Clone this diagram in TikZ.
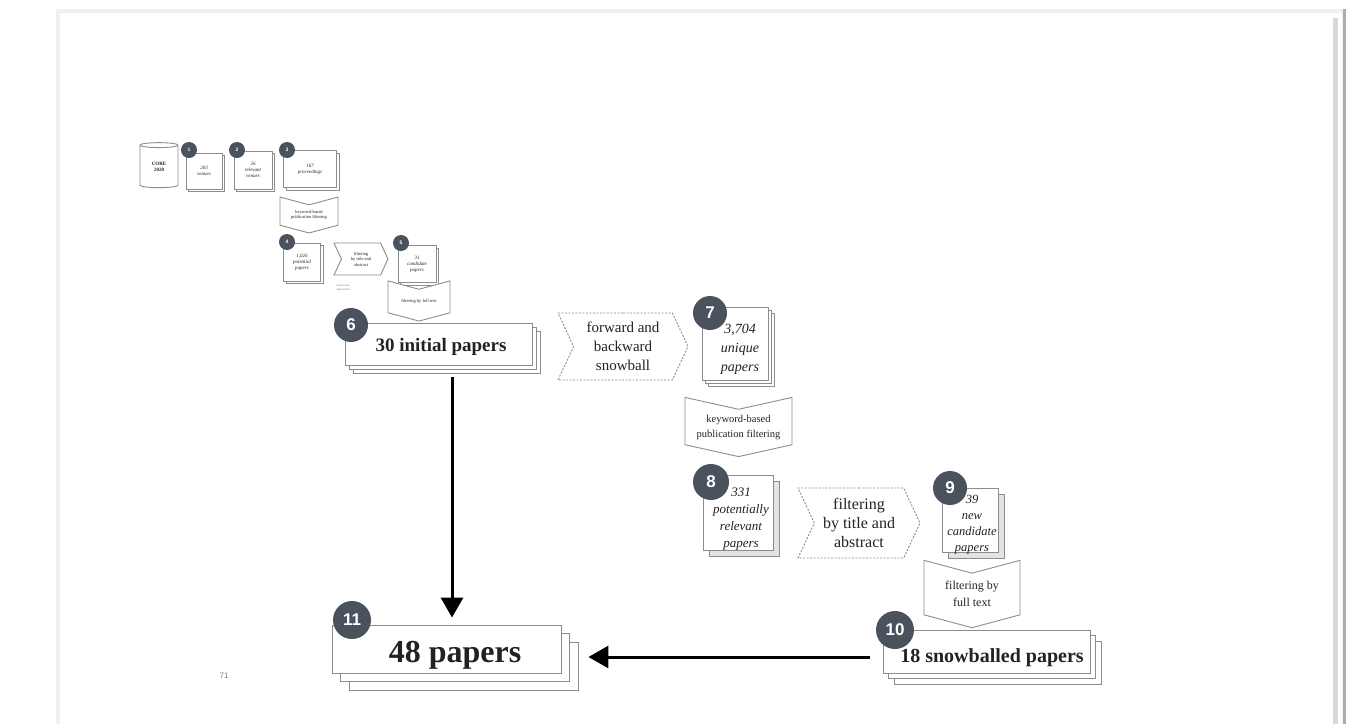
\documentclass[tikz,border=0pt]{standalone}
\usepackage{fontspec}
\setmainfont{Liberation Serif}
\newfontfamily\badgefont{Liberation Sans}
\usetikzlibrary{shapes.geometric,shapes.symbols,shadows,arrows.meta,calc}
\definecolor{badgec}{HTML}{4A525D}
\definecolor{boxgray}{HTML}{8C8C8C}
\definecolor{textc}{HTML}{222222}
\newcommand\fsz[2]{\fontsize{#1}{#2}\selectfont}
\begin{document}
\begin{tikzpicture}[x=1pt,y=-1pt,
  badge/.style={circle,fill=badgec,text=white,inner sep=0pt},
  paper/.style={draw=boxgray,fill=white,line width=0.9pt,inner sep=1pt,align=center,text=textc},
  txt/.style={align=center,text=textc,inner sep=0pt},
  sstack/.style={copy shadow={shadow xshift=#1,shadow yshift=-#1,draw=boxgray,fill=white,opacity=1,line width=0.9pt}},
  dstack/.style 2 args={copy shadow={shadow xshift=#1,shadow yshift=-#1,draw=boxgray,fill=white,opacity=1,line width=0.9pt},
                        copy shadow={shadow xshift=#2,shadow yshift=-#2,draw=boxgray,fill=white,opacity=1,line width=0.9pt}},
  cube/.style={copy shadow={shadow xshift=#1,shadow yshift=-#1,draw=boxgray,fill=gray!22,opacity=1,line width=0.9pt}},
  chevR/.style={signal,signal to=east,signal from=west,draw=boxgray,fill=white,line width=0.9pt,align=center,inner sep=0pt,text=textc},
  chevD/.style={signal,signal to=south,signal from=north,draw=boxgray,fill=white,line width=0.9pt,align=center,inner sep=0pt,text=textc},
  dotted border/.style={dash pattern=on 2pt off 1.5pt},
  bigarrow/.style={line width=3pt,-{Triangle[length=20pt,width=22pt]}}
]
\useasboundingbox (0,0) rectangle (1347,724);
% slide frame
\fill[gray!12] (56,9) rectangle (1346,724);
\fill[white] (60,13) rectangle (1342,724);
\fill[gray!30] (1333,18) rectangle (1338,724);
\fill[gray!65] (1343,9) rectangle (1345.5,724);

% ---- small part
\node[paper,shape=cylinder,shape border rotate=90,aspect=0.3,minimum width=38pt,minimum height=45pt,font=\fsz{5}{6}\bfseries] (core) at (159,167) {CORE\\2020};

\node[paper,sstack=2.5pt,minimum width=36pt,minimum height=36pt,font=\fsz{5}{6}\itshape] (p1) at (204,171) {203\\venues};
\node[badge,minimum size=16pt,font=\badgefont\bfseries\fsz{5}{6}] (n1) at (189,150) {1};

\node[paper,sstack=2.5pt,minimum width=38pt,minimum height=38pt,font=\fsz{5}{6}\itshape] (p2) at (253,170) {26\\relevant\\venues};
\node[badge,minimum size=16pt,font=\badgefont\bfseries\fsz{5}{6}] (n2) at (237,150) {2};

\node[paper,sstack=2.5pt,minimum width=53pt,minimum height=37pt,font=\fsz{5}{6}\itshape] (p3) at (310,169) {167\\proceedings};
\node[badge,minimum size=16pt,font=\badgefont\bfseries\fsz{5}{6}] (n3) at (287,150) {3};

\node[chevD,signal pointer angle=150,minimum width=58pt,minimum height=30pt,font=\fsz{4.5}{5.5}] (k1) at (309,215) {keyword-based\\publication filtering};

\node[paper,sstack=2.5pt,minimum width=37pt,minimum height=38pt,font=\fsz{5}{6}\itshape] (p4) at (302,262) {1,026\\potential\\papers};
\node[badge,minimum size=16pt,font=\badgefont\bfseries\fsz{5}{6}] (n4) at (287,242) {4};

\node[chevR,signal pointer angle=130,minimum width=54pt,minimum height=32pt,font=\fsz{4.5}{5.5}] (t1) at (361,259) {filtering\\by title and\\abstract};
\node[align=center,text=gray,font=\fsz{3.2}{4}] (note) at (343,288) {inter-rater\\agreement};

\node[paper,sstack=2.5pt,minimum width=38pt,minimum height=37pt,font=\fsz{5}{6}\itshape] (p5) at (417,264) {31\\candidate\\papers};
\node[badge,minimum size=16pt,font=\badgefont\bfseries\fsz{5}{6}] (n5) at (401,243) {5};

\node[chevD,signal pointer angle=150,minimum width=62pt,minimum height=33pt,font=\fsz{4.5}{5.5}] (f1) at (419,301) {filtering by full text};

% ---- 6
\node[paper,dstack={8pt}{4pt},minimum width=187pt,minimum height=42pt] (p6) at (438.5,344) {};
\node[txt,font=\fsz{19}{22}\bfseries] (p6t) at (441,347) {30 initial papers};
\node[badge,minimum size=34pt,font=\badgefont\bfseries\fsz{17}{19}] (n6) at (351,325) {6};

\node[chevR,dotted border,signal pointer angle=130,minimum width=130pt,minimum height=67pt,font=\fsz{15}{19}] (snow) at (623,346.5) {forward and\\backward\\snowball};

% ---- 7
\node[paper,dstack={6pt}{3pt},minimum width=66pt,minimum height=73pt] (p7) at (735,343.5) {};
\node[txt,font=\fsz{14}{19}\itshape] (p7t) at (740,349) {3,704\\unique\\papers};
\node[badge,minimum size=34pt,font=\badgefont\bfseries\fsz{17}{19}] (n7) at (710,313) {7};

\node[chevD,signal pointer angle=155,minimum width=107pt,minimum height=54pt,font=\fsz{10.5}{15}] (k2) at (738.5,427) {keyword-based\\publication filtering};

% ---- 8
\node[paper,cube=6pt,minimum width=70pt,minimum height=75pt] (p8) at (738,512.5) {};
\node[txt,font=\fsz{13}{17}\itshape] (p8t) at (741,519) {331\\potentially\\relevant\\papers};
\node[badge,minimum size=36pt,font=\badgefont\bfseries\fsz{17}{19}] (n8) at (711,482) {8};

\node[chevR,dotted border,signal pointer angle=130,minimum width=122pt,minimum height=70pt,font=\fsz{16}{19}] (t2) at (859,523) {filtering\\by title and\\abstract};

% ---- 9
\node[paper,cube=6pt,minimum width=56pt,minimum height=64pt] (p9) at (970,520) {};
\node[txt,font=\fsz{12.5}{16}\itshape] (p9t) at (972,525) {39\\new\\candidate\\papers};
\node[badge,minimum size=34pt,font=\badgefont\bfseries\fsz{17}{19}] (n9) at (950,488) {9};

\node[chevD,signal pointer angle=150,minimum width=96pt,minimum height=56pt,font=\fsz{12}{17}] (f2) at (972,594) {filtering by\\full text};

% ---- 10
\node[paper,dstack={11pt}{5.5pt},minimum width=207pt,minimum height=43pt] (p10) at (986.5,651.5) {};
\node[txt,font=\fsz{20}{23}\bfseries] (p10t) at (992,658) {18 snowballed papers};
\node[badge,minimum size=38pt,font=\badgefont\bfseries\fsz{17}{19}] (n10) at (895,630) {10};

% ---- 11
\node[paper,dstack={17pt}{8.5pt},minimum width=229pt,minimum height=48pt] (p11) at (446.5,649) {};
\node[txt,font=\fsz{32}{36}\bfseries] (p11t) at (455,655) {48 papers};
\node[badge,minimum size=38pt,font=\badgefont\bfseries\fsz{17}{19}] (n11) at (352,620) {11};

% ---- connectors
\draw[bigarrow] ([xshift=13.5pt,yshift=-12pt]p6.south) -- ([xshift=13.5pt,yshift=7pt]p6.south |- p11.north);
\draw[bigarrow] ($(p10.west)+(-13,5.5)$) -- ($(p11.east |- p10.west)+(27,5.5)$);

% page number
\node[text=gray,font=\badgefont\fsz{8}{9}] (pg) at (224,676) {71};
\end{tikzpicture}
\end{document}
